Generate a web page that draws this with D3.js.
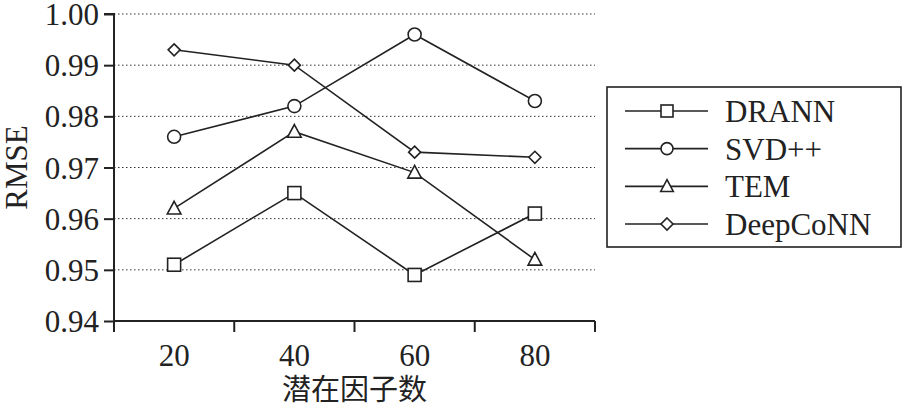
<!DOCTYPE html>
<html><head><meta charset="utf-8">
<script src="https://cdn.jsdelivr.net/npm/d3@7"></script>
<style>body{margin:0;background:#fff}svg{display:block}</style>
</head><body><svg id="c" width="905" height="409"></svg>
<script>
const categories = ["20","40","60","80"];
const seriesNames = ["DRANN","SVD++","TEM","DeepCoNN"];
const markers = ["square","circle","triangle","diamond"];
const DRANN = [0.951,0.965,0.949,0.961];
const SVDpp = [0.976,0.982,0.996,0.983];
const TEM = [0.962,0.977,0.969,0.952];
const DeepCoNN = [0.993,0.990,0.973,0.972];
const yTicks = [0.94,0.95,0.96,0.97,0.98,0.99,1.00];
const xTitle = "潜在因子数", yTitle = "RMSE";
const seriesValues = [DRANN,SVDpp,TEM,DeepCoNN];

const SERIF = "'Liberation Serif', 'DejaVu Serif', serif";
const svg = d3.select("#c");
const L=114,R=595,T=14,B=321;
const x = d3.scaleBand().domain(categories).range([L,R]);
const y = d3.scaleLinear().domain([0.94,1.00]).range([B,T]);

// grid
svg.append("g").selectAll("line").data(yTicks.filter(v=>v>0.94)).join("line")
 .attr("x1",L).attr("x2",R).attr("y1",d=>y(d)).attr("y2",d=>y(d))
 .attr("stroke","#333").attr("stroke-width",1).attr("stroke-dasharray","1.5,2.5");

// y axis
const ya = svg.append("g").attr("transform",`translate(${L},0)`)
 .call(d3.axisLeft(y).tickValues(yTicks).tickFormat(d3.format(".2f")).tickSize(10).tickPadding(5));
ya.attr("font-family",null).attr("font-size",null);
ya.select(".domain").attr("stroke","#222").attr("stroke-width",2).attr("d",`M-10,${T}H0V${B+11}`);
ya.selectAll(".tick line").attr("stroke","#222").attr("stroke-width",2);
ya.selectAll("text").style("font-size","31px").style("font-family",SERIF).attr("fill","#222").attr("dy","0.34em");

// x axis
const xa = svg.append("g").attr("transform",`translate(0,${B})`)
 .call(d3.axisBottom(x).tickSize(0).tickPadding(0));
xa.attr("font-family",null).attr("font-size",null);
xa.select(".domain").attr("stroke","#222").attr("stroke-width",2).attr("d",`M${L},0H${R}`);
xa.selectAll(".tick line").remove();
const bounds = [L].concat(categories.map(c=>x(c)+x.bandwidth()));
xa.selectAll("line.b").data(bounds).join("line").attr("class","b")
 .attr("x1",d=>d).attr("x2",d=>d).attr("y1",0).attr("y2",11).attr("stroke","#222").attr("stroke-width",2);
xa.selectAll("text").style("font-size","31px").style("font-family",SERIF).attr("fill","#222").attr("y",45).attr("dy",null);

svg.append("text").attr("x",(L+R)/2).attr("y",400).attr("text-anchor","middle").attr("fill","#222")
 .style("font-size","29px").style("font-family","'Noto Sans CJK SC', sans-serif").text(xTitle);
svg.append("text").attr("transform",`translate(27,${(T+B)/2}) rotate(-90)`).attr("text-anchor","middle").attr("fill","#222")
 .style("font-size","31px").style("font-family",SERIF).text(yTitle);

function drawMarker(g,type,cx,cy,s){
  const st={fill:"#fff",stroke:"#222","stroke-width":1.6};
  let e;
  if(type==="square") e=g.append("rect").attr("x",cx-s).attr("y",cy-s).attr("width",2*s).attr("height",2*s);
  else if(type==="circle") e=g.append("circle").attr("cx",cx).attr("cy",cy).attr("r",s);
  else if(type==="triangle") e=g.append("path").attr("d",`M${cx},${cy-s*1.1}L${cx+s*1.05},${cy+s*0.85}L${cx-s*1.05},${cy+s*0.85}Z`);
  else e=g.append("path").attr("d",`M${cx},${cy-s}L${cx+s},${cy}L${cx},${cy+s}L${cx-s},${cy}Z`);
  for(const k in st) e.attr(k,st[k]);
}

const line = d3.line().x((d,i)=>x(categories[i])+x.bandwidth()/2).y(d=>y(d));
seriesValues.forEach((vals,si)=>{
  const g = svg.append("g");
  g.append("path").attr("d",line(vals)).attr("fill","none").attr("stroke","#222").attr("stroke-width",1.6);
  const size = markers[si]==="diamond"?6:6.5;
  vals.forEach((v,i)=>drawMarker(g,markers[si],x(categories[i])+x.bandwidth()/2,y(v),size));
});

// legend
const lg = svg.append("g");
lg.append("rect").attr("x",607).attr("y",87).attr("width",294).attr("height",160)
 .attr("fill","#fff").attr("stroke","#222").attr("stroke-width",1.6);
const rowY = d3.scalePoint().domain(seriesNames).range([111,224]);
seriesNames.forEach((n,i)=>{
  const yy=rowY(n);
  lg.append("line").attr("x1",625).attr("x2",708).attr("y1",yy).attr("y2",yy).attr("stroke","#222").attr("stroke-width",1.6);
  drawMarker(lg,markers[i],667,yy,6);
  lg.append("text").attr("x",725).attr("y",yy).attr("dy","0.35em").attr("fill","#222")
   .style("font-size","31px").style("font-family",SERIF).text(n);
});
</script></body></html>
